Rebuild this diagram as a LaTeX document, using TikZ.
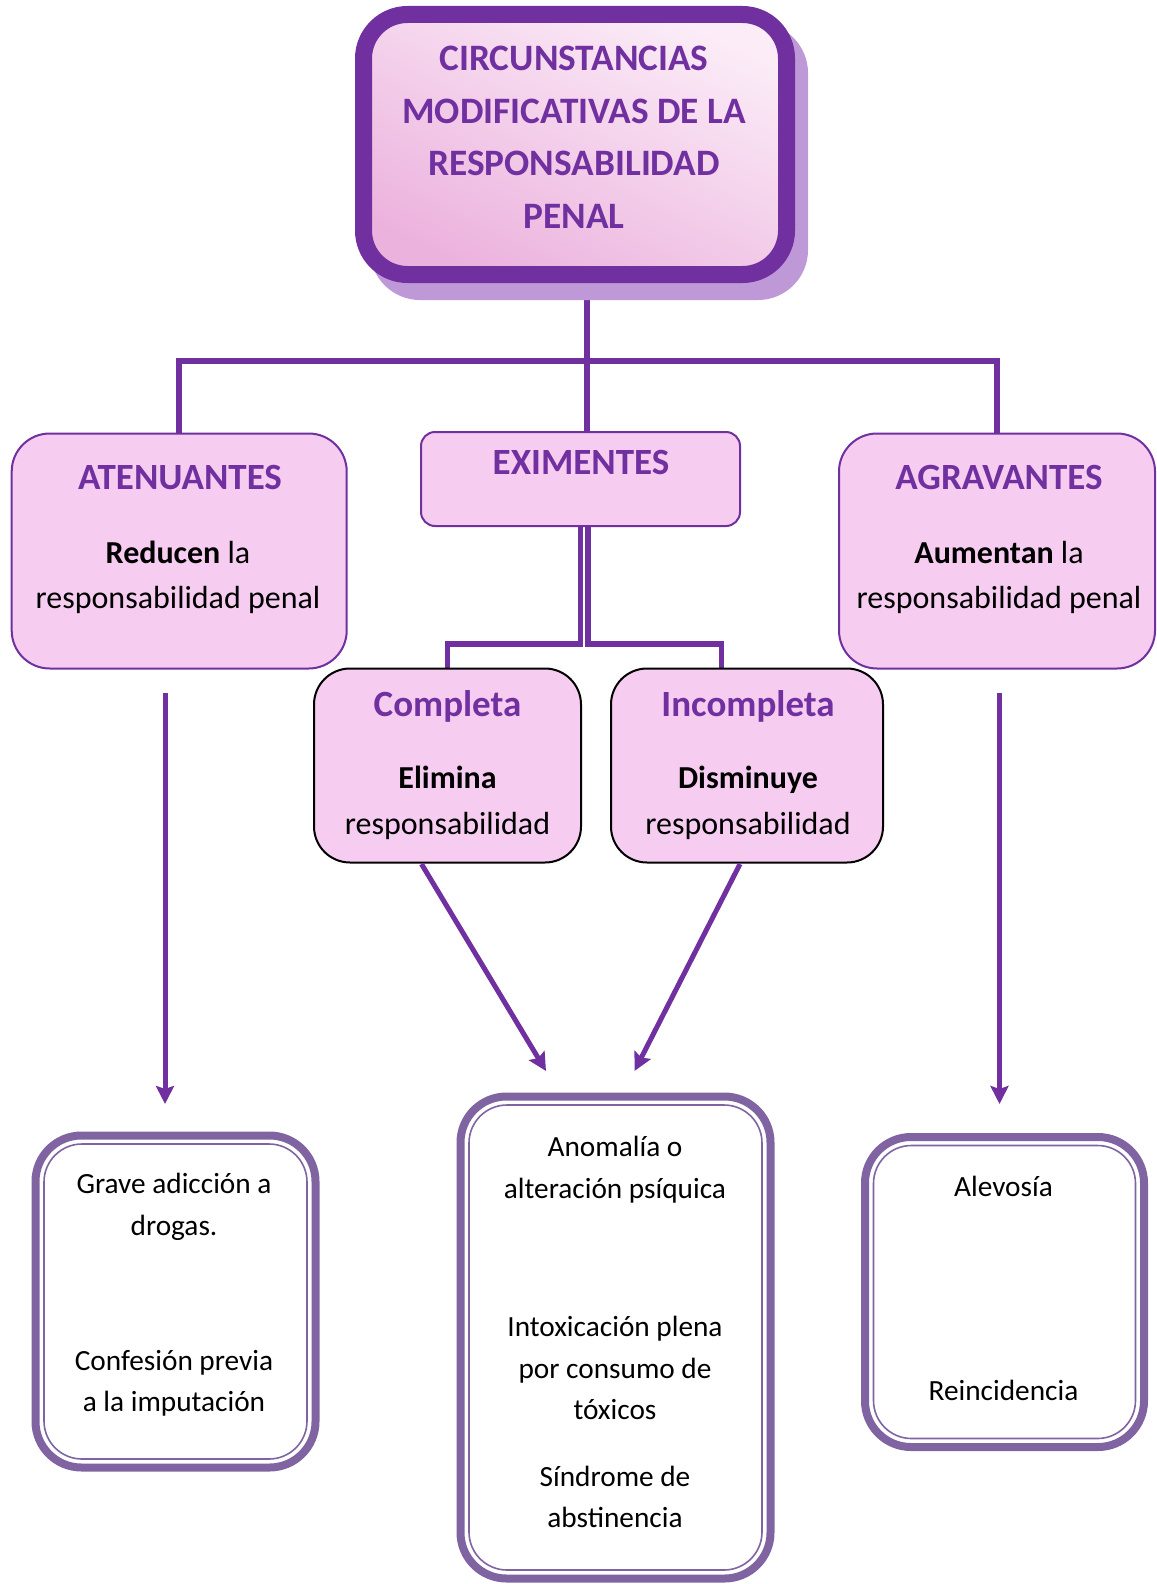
\documentclass[tikz,border=0pt]{standalone}
\usepackage{fontspec}
\setmainfont{Carlito}
\usetikzlibrary{arrows.meta,calc}
\definecolor{purp}{HTML}{7030A0}
\definecolor{lav}{HTML}{8064A2}
\definecolor{pinkf}{RGB}{246,204,240}
\definecolor{shad}{RGB}{190,152,215}
\definecolor{tlight}{RGB}{251,236,247}
\definecolor{tdark}{RGB}{236,178,222}
\pgfdeclarelayer{background}
\pgfsetlayers{background,main}
\tikzset{
  conn/.style={draw=purp,line width=5.5pt},
  arr/.style={draw=purp,line width=5pt,-{Stealth[length=18pt,width=18pt,inset=3pt]}},
  pinkbox/.style={draw=purp,line width=2pt,fill=pinkf,rounded corners=38pt,inner sep=0pt},
  blackbox/.style={draw=black,line width=2pt,fill=pinkf,rounded corners=36pt,inner sep=0pt},
  listbox/.style={draw=lav,line width=8pt,fill=white,rounded corners=46pt,inner sep=0pt},
  innerbox/.style={draw=lav,line width=1.6pt,rounded corners=38pt,inner sep=0pt},
  head/.style={font=\bfseries\fontsize{37}{52}\selectfont,text=purp,inner sep=0pt,text height=24pt,text depth=0pt},
  txt/.style={font=\fontsize{32}{45.5}\selectfont,align=center,inner sep=0pt},
  smalltxt/.style={font=\fontsize{29.3}{41.4}\selectfont,align=center,inner sep=0pt},
}
\begin{document}
\begin{tikzpicture}[x=1pt,y=-1pt]
\useasboundingbox (0,0) rectangle (1156,1584);
% title shadow
\fill[shad,rounded corners=50pt] (370,23) rectangle (808,300);
% title
\node[draw=purp,line width=17pt,rounded corners=44pt,minimum width=423pt,minimum height=260pt,
  top color=tlight,bottom color=tdark,shading angle=-25,inner sep=0pt] (title) at (575,144.5) {};
\node[font=\bfseries\fontsize{37.3}{52.5}\selectfont,text=purp,align=center,inner sep=0pt] (titletxt) at (574,137.5)
  {CIRCUNSTANCIAS\\MODIFICATIVAS DE LA\\RESPONSABILIDAD\\PENAL};

% level 2 boxes
\node[pinkbox,minimum width=335pt,minimum height=235pt] (aten) at (179.2,551) {};
\node[pinkbox,rounded corners=14pt,minimum width=319pt,minimum height=94pt] (exim) at (580.5,479) {};
\node[pinkbox,minimum width=316pt,minimum height=235pt] (agra) at (997,551) {};
\node[head] (atenh) at (180,477.5) {ATENUANTES};
\node[txt] (atent) at (178,577.5) {\textbf{Reducen} la\\responsabilidad penal};
\node[head] (eximh) at (581,462) {EXIMENTES};
\node[head] (agrah) at (999,477.5) {AGRAVANTES};
\node[txt] (agrat) at (999,577.5) {\textbf{Aumentan} la\\responsabilidad penal};

% level 3 boxes
\node[blackbox,minimum width=267pt,minimum height=194pt] (comp) at (447.5,765.5) {};
\node[blackbox,minimum width=272pt,minimum height=194pt] (incomp) at (747,765.5) {};
\node[head] (comph) at (447.5,704) {Completa};
\node[txt] (compt) at (447.5,803) {\textbf{Elimina}\\responsabilidad};
\node[head] (incomph) at (748,704) {Incompleta};
\node[txt] (incompt) at (748,803) {\textbf{Disminuye}\\responsabilidad};

% bottom boxes
\node[listbox,minimum width=280pt,minimum height=332pt] (lbox) at (175.5,1301.5) {};
\node[innerbox,minimum width=263pt,minimum height=315pt] (lboxi) at (175.5,1301.5) {};
\node[listbox,minimum width=310pt,minimum height=482pt] (mbox) at (615.5,1337.5) {};
\node[innerbox,minimum width=293pt,minimum height=465pt] (mboxi) at (615.5,1337.5) {};
\node[listbox,minimum width=279pt,minimum height=310pt] (rbox) at (1004.5,1292) {};
\node[innerbox,minimum width=262pt,minimum height=293pt] (rboxi) at (1004.5,1292) {};

\node[smalltxt] (l1) at (174,1207) {Grave adicción a\\drogas.};
\node[smalltxt] (l2) at (174,1383.5) {Confesión previa\\a la imputación};
\node[smalltxt] (m1) at (615,1169.5) {Anomalía o\\alteración psíquica};
\node[smalltxt] (m2) at (615,1368) {Intoxicación plena\\por consumo de\\tóxicos};
\node[smalltxt] (m3) at (615,1497) {Síndrome de\\abstinencia};
\node[smalltxt] (r1) at (1003.5,1186) {Alevosía};
\node[smalltxt] (r2) at (1003.5,1390) {Reincidencia};

% connectors
\coordinate (j) at (587,361);
\coordinate (e1) at (580.5,644);
\coordinate (e2) at (588,644);
\coordinate (e3) at (721.5,644);
\coordinate (la1) at (165,693);
\coordinate (la2) at (165,1104);
\coordinate (ra1) at (999.5,693);
\coordinate (ra2) at (999.5,1104);
\coordinate (c1) at (421.5,864);
\coordinate (c2) at (546,1071);
\coordinate (i1) at (740,864);
\coordinate (i2) at (634.5,1071);
\begin{pgfonlayer}{background}
\draw[conn] (title.south -| j) -- (j);
\draw[conn] (j) -| (aten.north);
\draw[conn] (j) -| (agra.north);
\draw[conn] (j) -- (j |- exim.north);
\draw[conn] (e1 |- exim.south) -- (e1) -| (comp.north);
\draw[conn] (e2 |- exim.south) -- (e2) -- (e3) -- (e3 |- incomp.north);
\end{pgfonlayer}
\draw[arr] (la1) -- (la2);
\draw[arr] (ra1) -- (ra2);
\draw[arr] (c1) -- (c2);
\draw[arr] (i1) -- (i2);
\end{tikzpicture}
\end{document}
